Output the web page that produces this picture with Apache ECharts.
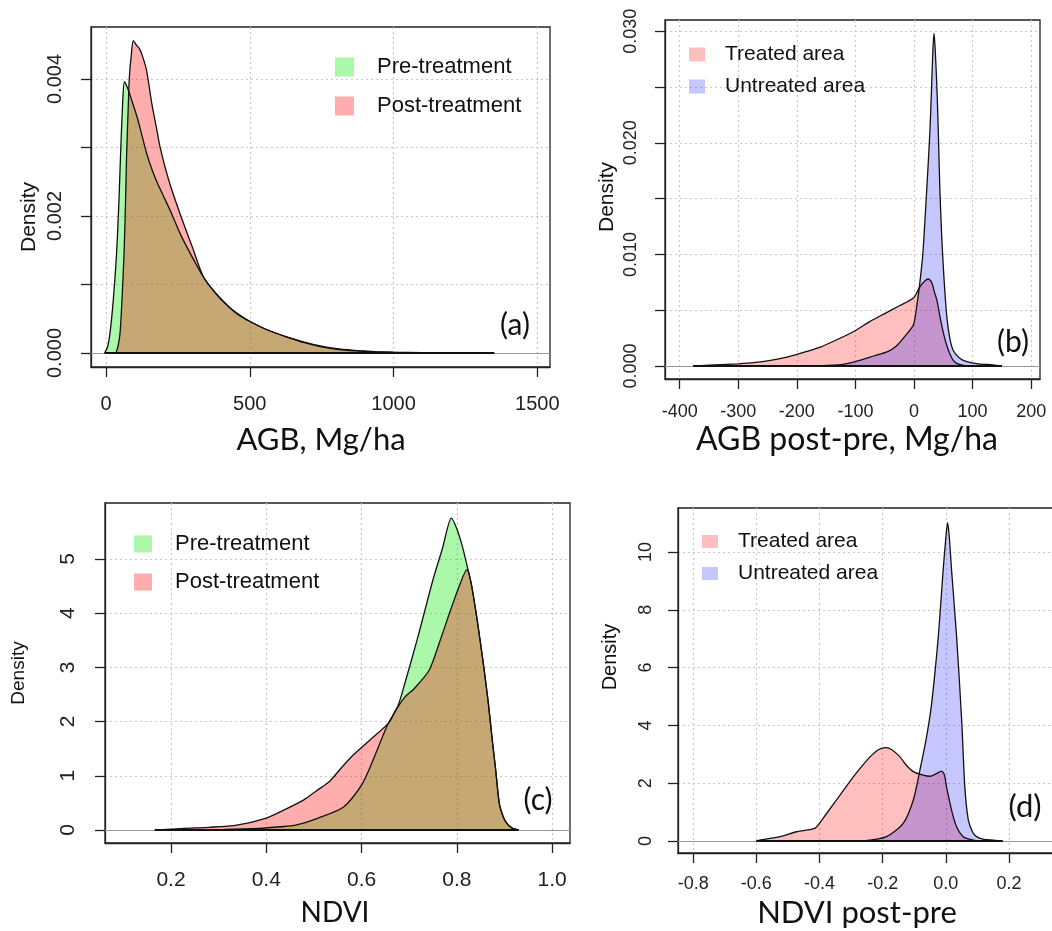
<!DOCTYPE html>
<html><head><meta charset="utf-8">
<script src="https://cdn.jsdelivr.net/npm/echarts@6/dist/echarts.min.js"></script>
<style>html,body{margin:0;padding:0;background:#fff;overflow:hidden}#c{width:1130px;height:931px}</style>
</head><body><div id="c"></div>
<script>
// ---------- Panel (a): AGB density (y values in 1e-3) ----------
const aPreX  = [-5, 5, 14, 25, 37, 45, 51, 58, 64, 72, 81, 95, 110, 125, 141, 160, 180, 199, 230, 257, 300, 339, 380, 426, 460, 501, 560, 625, 690, 749, 810, 874, 940, 998, 1050];
const aPreY  = [0, 0.08, 0.29, 0.75, 1.46, 2.2, 2.92, 3.65, 3.96, 3.9, 3.8, 3.62, 3.42, 3.18, 2.92, 2.68, 2.47, 2.30, 2.02, 1.75, 1.40, 1.11, 0.88, 0.68, 0.57, 0.46, 0.34, 0.24, 0.15, 0.09, 0.05, 0.03, 0.015, 0.008, 0];
const aPostX = [35, 42, 49, 56, 63, 68, 72, 78, 81, 88, 95, 105, 115, 124, 141, 159, 175, 188, 220, 257, 300, 339, 380, 426, 460, 501, 560, 625, 690, 749, 810, 874, 940, 998, 1100, 1200, 1350];
const aPostY = [0, 0.1, 0.29, 0.8, 1.46, 2.2, 2.92, 3.65, 4.0, 4.35, 4.56, 4.5, 4.45, 4.37, 4.13, 3.65, 3.3, 3.01, 2.5, 2.04, 1.55, 1.11, 0.88, 0.68, 0.56, 0.46, 0.34, 0.24, 0.16, 0.10, 0.06, 0.035, 0.02, 0.012, 0.006, 0.003, 0];
const aXTicks = [0, 500, 1000, 1500];
const aYTicks = [0, 0.001, 0.002, 0.003, 0.004];
const aYLabels = [0, 0.002, 0.004];

// ---------- Panel (b): AGB post-pre ----------
const bTreatX = [-377, -340, -300, -274, -245, -217, -190, -160, -130, -103, -75, -50, -25, -1, 10, 18, 24.5, 30, 35, 39, 44, 50, 55, 61, 67, 73, 85, 100];
const bTreatY = [0, 0.0001, 0.0002, 0.0003, 0.0005, 0.0008, 0.0012, 0.0017, 0.0024, 0.0031, 0.0040, 0.0047, 0.0054, 0.0061, 0.0071, 0.0076, 0.0078, 0.0075, 0.0066, 0.0059, 0.0045, 0.0030, 0.0020, 0.0011, 0.0005, 0.00024, 0.00005, 0];
const bUntrX = [-180, -130, -100, -69, -45, -30, -15, -1, 5, 10, 15, 19, 23, 27, 30, 32, 34, 36, 39, 41.5, 44, 47, 51, 56, 61, 67, 78, 90, 110, 135, 150];
const bUntrY = [0, 0.0001, 0.0004, 0.0009, 0.0013, 0.0018, 0.0027, 0.0037, 0.0055, 0.0075, 0.0100, 0.0134, 0.0170, 0.0209, 0.0250, 0.0280, 0.0298, 0.0285, 0.0250, 0.0209, 0.0160, 0.0119, 0.0080, 0.0044, 0.0025, 0.0014, 0.0007, 0.0004, 0.0002, 0.0001, 0];
const bXTicks = [-400, -300, -200, -100, 0, 100, 200];
const bYTicks = [0, 0.005, 0.010, 0.015, 0.020, 0.025, 0.030];
const bYLabels = [0, 0.010, 0.020, 0.030];

// ---------- Panel (c): NDVI ----------
const cPreX  = [0.166, 0.25, 0.31, 0.385, 0.43, 0.462, 0.509, 0.563, 0.602, 0.633, 0.655, 0.676, 0.691, 0.7185, 0.7497, 0.77, 0.7885, 0.80, 0.8115, 0.822, 0.83, 0.8426, 0.855, 0.866, 0.875, 0.8814, 0.889, 0.897, 0.905, 0.915, 0.93];
const cPreY  = [0, 0.005, 0.01, 0.03, 0.06, 0.09, 0.22, 0.43, 0.86, 1.48, 1.95, 2.28, 2.71, 3.57, 4.61, 5.2, 5.75, 5.55, 5.23, 4.85, 4.55, 3.87, 3.1, 2.34, 1.6, 1.11, 0.49, 0.25, 0.12, 0.04, 0];
const cPostX = [0.17, 0.229, 0.28, 0.338, 0.40, 0.44, 0.478, 0.505, 0.532, 0.555, 0.5788, 0.6176, 0.6565, 0.672, 0.6908, 0.7108, 0.742, 0.765, 0.7845, 0.805, 0.821, 0.83, 0.8426, 0.855, 0.866, 0.875, 0.8814, 0.889, 0.897, 0.905, 0.915, 0.93];
const cPostY = [0, 0.03, 0.05, 0.09, 0.22, 0.38, 0.55, 0.72, 0.89, 1.12, 1.35, 1.66, 1.97, 2.21, 2.45, 2.61, 2.95, 3.5, 4.0, 4.5, 4.80, 4.55, 3.87, 3.1, 2.34, 1.6, 1.11, 0.49, 0.25, 0.12, 0.04, 0];
const cXTicks = [0.2, 0.4, 0.6, 0.8, 1.0];
const cYTicks = [0, 1, 2, 3, 4, 5];

// ---------- Panel (d): NDVI post-pre ----------
const dTreatX = [-0.6, -0.589, -0.525, -0.472, -0.42, -0.409, -0.377, -0.335, -0.293, -0.265, -0.24, -0.215, -0.19, -0.17, -0.146, -0.125, -0.103, -0.072, -0.05, -0.03, -0.014, -0.005, 0.002, 0.018, 0.034, 0.055, 0.086, 0.1];
const dTreatY = [0, 0.03, 0.15, 0.32, 0.42, 0.49, 0.96, 1.59, 2.22, 2.6, 2.91, 3.15, 3.23, 3.15, 2.92, 2.62, 2.40, 2.28, 2.24, 2.33, 2.42, 2.3, 1.88, 1.07, 0.49, 0.15, 0.03, 0];
const dUntrX = [-0.26, -0.188, -0.135, -0.103, -0.082, -0.061, -0.045, -0.024, -0.0085, 0.0, 0.0054, 0.011, 0.018, 0.034, 0.050, 0.060, 0.071, 0.085, 0.097, 0.12, 0.15, 0.18];
const dUntrY = [0, 0.15, 0.61, 1.42, 2.46, 3.61, 4.76, 7.07, 9.38, 10.5, 11.01, 10.5, 9.38, 7.07, 4.19, 1.88, 0.73, 0.3, 0.15, 0.06, 0.03, 0];
const dXTicks = [-0.8, -0.6, -0.4, -0.2, 0.0, 0.2, 0.4];
const dYTicks = [0, 2, 4, 6, 8, 10];

const zip = (xs, ys, k) => xs.map((x, i) => [x, ys[i] * (k || 1)]);

const GREEN = 'rgba(0,235,0,0.33)';
const RED = 'rgba(255,0,0,0.32)';
const PINK = 'rgba(255,0,0,0.25)';
const BLUE = 'rgba(0,0,255,0.22)';

const grids = [
  {left: 91, top: 27, width: 459, height: 340},
  {left: 665, top: 20, width: 375, height: 359},
  {left: 105, top: 503, width: 465, height: 340},
  {left: 678, top: 508, width: 410, height: 345}
].map(g => Object.assign(g, {show: true, borderColor: '#222', borderWidth: 1.3, backgroundColor: 'transparent', containLabel: false}));

const gridLine = {show: true, lineStyle: {color: '#c8c8c8', type: [2, 3], width: 1.2}};
function xAx(i, min, max, ticks, fs, margin, fmt) {
  return {type: 'value', gridIndex: i, min, max,
    axisLine: {show: true, onZero: false, lineStyle: {color: '#222', width: 1.3}},
    axisTick: {show: true, length: 10, customValues: ticks, lineStyle: {color: '#222', width: 1.3}},
    axisLabel: {customValues: ticks, fontSize: fs, fontFamily: 'Liberation Sans', color: '#222', margin, formatter: fmt,
      showMinLabel: true, showMaxLabel: true, hideOverlap: false},
    splitLine: gridLine};
}
function yAx(i, min, max, ticks, labels, fs, margin, fmt) {
  return {type: 'value', gridIndex: i, min, max,
    axisLine: {show: true, onZero: false, lineStyle: {color: '#222', width: 1.3}},
    axisTick: {show: true, length: 10, customValues: ticks, lineStyle: {color: '#222', width: 1.3}},
    axisLabel: {customValues: labels, rotate: 90, fontSize: fs, fontFamily: 'Liberation Sans', color: '#222', margin, formatter: fmt, hideOverlap: false},
    splitLine: gridLine};
}

const xAxes = [
  xAx(0, -52, 1544, aXTicks, 20, 27, v => String(Math.round(v))),
  xAx(1, -425, 215, bXTicks, 18, 24, v => String(Math.round(v))),
  xAx(2, 0.0615, 1.0374, cXTicks, 21, 27, v => v.toFixed(1)),
  xAx(3, -0.848, 0.45, dXTicks, 18, 22, v => (Math.abs(v) < 1e-9 ? 0 : v).toFixed(1))
];
const yAxes = [
  yAx(0, -0.000204, 0.004759, aYTicks, aYLabels, 20, 26, v => v.toFixed(3)),
  yAx(1, -0.00116, 0.0310, bYTicks, bYLabels, 18, 25, v => v.toFixed(3)),
  yAx(2, -0.24, 6.03, cYTicks, cYTicks, 21, 26, v => String(Math.round(v))),
  yAx(3, -0.415, 11.52, dYTicks, dYTicks, 18, 23, v => String(Math.round(v)))
];

function dens(name, i, data, color) {
  return {type: 'line', name, xAxisIndex: i, yAxisIndex: i, data, showSymbol: false, symbol: 'none',
    smooth: 0.25, lineStyle: {color: '#111', width: 1.3}, itemStyle: {color},
    areaStyle: {color, opacity: 1, origin: 0}, silent: true, z: 2};
}
function zeroLine(i, xmin, xmax) {
  return {type: 'line', xAxisIndex: i, yAxisIndex: i, data: [], silent: true,
    markLine: {silent: true, symbol: 'none', label: {show: false}, animation: false,
      data: [
        [{coord: [xAxes[i].min, 0], lineStyle: {color: '#9a9a9a', width: 1.2, type: 'solid'}}, {coord: [xAxes[i].max, 0]}],
        [{coord: [xmin, 0], lineStyle: {color: '#111', width: 2, type: 'solid'}}, {coord: [xmax, 0]}]
      ]}};
}

const series = [
  dens('Pre-treatment', 0, zip(aPreX, aPreY, 0.001), GREEN),
  dens('Post-treatment', 0, zip(aPostX, aPostY, 0.001), RED),
  zeroLine(0, aPreX[0], aPostX[aPostX.length - 1]),
  dens('Treated area', 1, zip(bTreatX, bTreatY), PINK),
  dens('Untreated area', 1, zip(bUntrX, bUntrY), BLUE),
  zeroLine(1, bTreatX[0], bUntrX[bUntrX.length - 1]),
  dens('Pre-treatment', 2, zip(cPreX, cPreY), GREEN),
  dens('Post-treatment', 2, zip(cPostX, cPostY), RED),
  zeroLine(2, cPreX[0], cPreX[cPreX.length - 1]),
  dens('Treated area', 3, zip(dTreatX, dTreatY), PINK),
  dens('Untreated area', 3, zip(dUntrX, dUntrY), BLUE),
  zeroLine(3, dTreatX[0], dUntrX[dUntrX.length - 1])
];

function leg(left, top, w, h, gap, fs, pad, names, colors) {
  return {left, top, orient: 'vertical', itemWidth: w, itemHeight: h, itemGap: gap, icon: 'rect', selectedMode: false,
    data: names.map((n, k) => ({name: n, itemStyle: {color: colors[k], borderWidth: 0, opacity: 1}})),
    textStyle: {fontSize: fs, fontFamily: 'Liberation Sans', color: '#111', padding: [0, 0, 0, pad]}};
}
const legendCols1 = ['rgba(0,235,0,0.33)', 'rgba(255,0,0,0.32)'];
const legendCols2 = ['rgba(255,0,0,0.25)', 'rgba(0,0,255,0.22)'];
const legends = [
  leg(330, 51, 19, 19, 17, 22, 18, ['Pre-treatment', 'Post-treatment'], legendCols1),
  leg(684, 39, 16, 14, 11, 21, 15, ['Treated area', 'Untreated area'], legendCols2),
  leg(129, 528, 18, 17, 16, 22, 18, ['Pre-treatment', 'Post-treatment'], legendCols1),
  leg(697, 526, 16, 13, 11, 21, 15, ['Treated area', 'Untreated area'], legendCols2)
];

const TITLE_FONT = 'Lato';
function txt(x, y, text, fs, font, rot) {
  return {type: 'text', x, y, rotation: rot || 0, silent: true,
    style: {text, fontSize: fs, fontFamily: font, fill: '#111', align: 'center', verticalAlign: 'middle'}};
}
const graphics = [
  txt(321, 440, 'AGB, Mg/ha', 31, TITLE_FONT),
  txt(847, 440, 'AGB post-pre, Mg/ha', 32, TITLE_FONT),
  txt(335, 913, 'NDVI', 28, TITLE_FONT),
  txt(857, 913, 'NDVI post-pre', 31, TITLE_FONT),
  txt(29, 217, 'Density', 21, 'Liberation Sans', Math.PI / 2),
  txt(607, 197, 'Density', 21, 'Liberation Sans', Math.PI / 2),
  txt(19, 673, 'Density', 19, 'Liberation Sans', Math.PI / 2),
  txt(610, 657, 'Density', 20, 'Liberation Sans', Math.PI / 2),
  txt(515, 325, '(a)', 30, TITLE_FONT),
  txt(1013, 342, '(b)', 30, TITLE_FONT),
  txt(538, 800, '(c)', 30, TITLE_FONT),
  txt(1025, 807, '(d)', 31, TITLE_FONT)
];

const chart = echarts.init(document.getElementById('c'), null, {renderer: 'canvas'});
chart.setOption({
  animation: false,
  backgroundColor: '#fff',
  grid: grids, xAxis: xAxes, yAxis: yAxes, series, legend: legends, graphic: graphics
});
</script></body></html>
